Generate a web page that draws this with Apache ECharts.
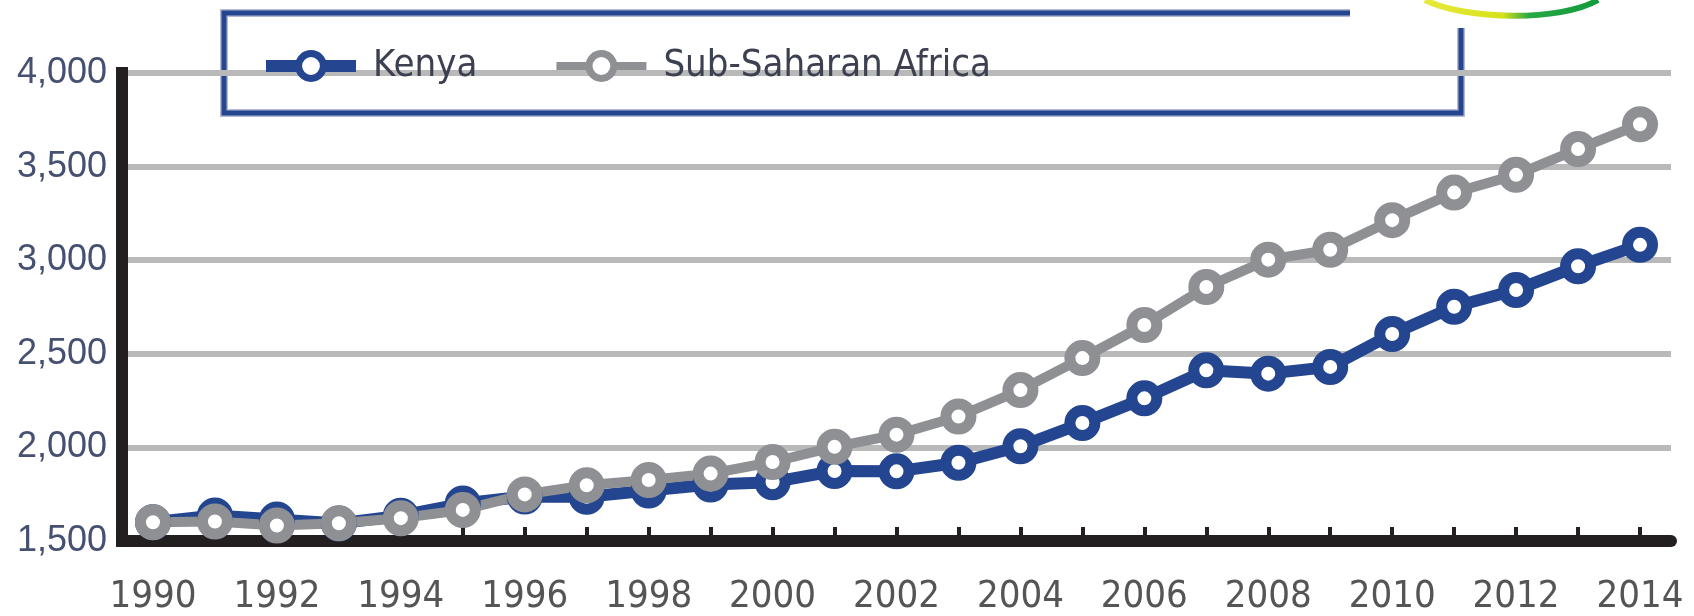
<!DOCTYPE html>
<html>
<head>
<meta charset="utf-8">
<script src="https://cdn.jsdelivr.net/npm/echarts@6/dist/echarts.min.js"></script>
<style>
  html, body { margin: 0; padding: 0; background: #fff; }
  #chart { width: 1694px; height: 616px; }
</style>
</head>
<body>
<div id="chart"></div>
<script>
// data
const years = ['1990', '1991', '1992', '1993', '1994', '1995', '1996', '1997', '1998', '1999',
  '2000', '2001', '2002', '2003', '2004', '2005', '2006', '2007', '2008', '2009',
  '2010', '2011', '2012', '2013', '2014'];
const kenya = [1600, 1636, 1615, 1594, 1635, 1700, 1738, 1736, 1770, 1802,
  1814, 1874, 1872, 1918, 2006, 2130, 2262, 2412, 2394, 2430,
  2606, 2751, 2841, 2968, 3082];
const subSaharan = [1600, 1604, 1583, 1595, 1622, 1666, 1749, 1798, 1826, 1860,
  1922, 2003, 2068, 2165, 2306, 2477, 2654, 2857, 3003, 3056,
  3214, 3361, 3456, 3594, 3726];
const yTicks = [1500, 2000, 2500, 3000, 3500, 4000];

const BLUE = '#24458f';
const GREY = '#8f9094';
const INK = '#231f20';
// no narrow font installed, condensed DejaVu is the closest
const NARROW = "'Liberation Sans Narrow', 'Arial Narrow', 'DejaVu Sans Condensed', sans-serif";

const chart = echarts.init(document.getElementById('chart'), null, { renderer: 'canvas' });

const option = {
  animation: false,
  backgroundColor: '#fff',
  grid: { left: 122, right: 23, top: 73, bottom: 70, containLabel: false },
  legend: {
    left: 260,
    top: 47,
    padding: 0,
    itemWidth: 90,
    itemHeight: 31,
    itemGap: 75,
    selectedMode: false,
    textStyle: { fontFamily: NARROW, fontSize: 38, color: '#3c4050', padding: [0, 0, 0, 12] },
    data: [
      { name: 'Kenya', lineStyle: { width: 12, color: BLUE }, itemStyle: { color: '#fff', borderColor: BLUE, borderWidth: 7 } },
      { name: 'Sub-Saharan Africa', lineStyle: { width: 8, color: GREY }, itemStyle: { color: '#fff', borderColor: GREY, borderWidth: 7 } }
    ]
  },
  xAxis: {
    type: 'category',
    data: years,
    boundaryGap: true,
    axisLine: { lineStyle: { color: INK, width: 12 } },
    axisTick: { show: true, alignWithLabel: true, interval: 0, inside: true, length: 14, lineStyle: { color: INK, width: 4 } },
    axisLabel: { interval: 1, margin: 37, fontFamily: NARROW, fontSize: 38, color: '#555' },
    splitLine: { show: false }
  },
  yAxis: {
    type: 'value',
    min: yTicks[0],
    max: yTicks[yTicks.length - 1],
    interval: 500,
    axisLine: { show: true, lineStyle: { color: INK, width: 12, cap: 'square' } },
    axisTick: { show: false },
    axisLabel: {
      margin: 15,
      fontFamily: "'Liberation Sans', Arial, sans-serif",
      fontSize: 36,
      color: '#465070',
      formatter: v => v.toLocaleString('en-US')
    },
    splitLine: { show: true, lineStyle: { color: '#b9b9b9', width: 6 } }
  },
  series: [
    {
      name: 'Kenya',
      type: 'line',
      data: kenya,
      symbol: 'circle',
      symbolSize: 25,
      showAllSymbol: true,
      lineStyle: { color: BLUE, width: 12 },
      itemStyle: { color: '#fff', borderColor: BLUE, borderWidth: 11 },
      emphasis: { disabled: true }
    },
    {
      name: 'Sub-Saharan Africa',
      type: 'line',
      data: subSaharan,
      symbol: 'circle',
      symbolSize: 25,
      showAllSymbol: true,
      lineStyle: { color: GREY, width: 10 },
      itemStyle: { color: '#fff', borderColor: GREY, borderWidth: 11 },
      emphasis: { disabled: true }
    }
  ],
  graphic: [
    // legend frame, open at the top right where the logo sits
    {
      type: 'polyline',
      silent: true,
      shape: { points: [[1350, 13], [224, 13], [224, 113], [1461, 113], [1461, 28]] },
      style: { stroke: '#b3b9d2', lineWidth: 8, fill: null }
    },
    {
      type: 'polyline',
      silent: true,
      shape: { points: [[1350, 13], [224, 13], [224, 113], [1461, 113], [1461, 28]] },
      style: { stroke: BLUE, lineWidth: 5, fill: null }
    },
    // cropped logo swoosh
    {
      type: 'bezierCurve',
      silent: true,
      shape: { x1: 1425, y1: 0, cpx1: 1465, cpy1: 20, cpx2: 1560, cpy2: 22, x2: 1598, y2: 0 },
      style: {
        fill: null,
        lineWidth: 6,
        stroke: new echarts.graphic.LinearGradient(0, 0, 1, 0, [
          { offset: 0, color: '#e6ea3a' },
          { offset: 0.45, color: '#d8e21a' },
          { offset: 0.6, color: '#27a844' },
          { offset: 1, color: '#119a3c' }
        ])
      }
    }
  ]
};

chart.setOption(option);
</script>
</body>
</html>
